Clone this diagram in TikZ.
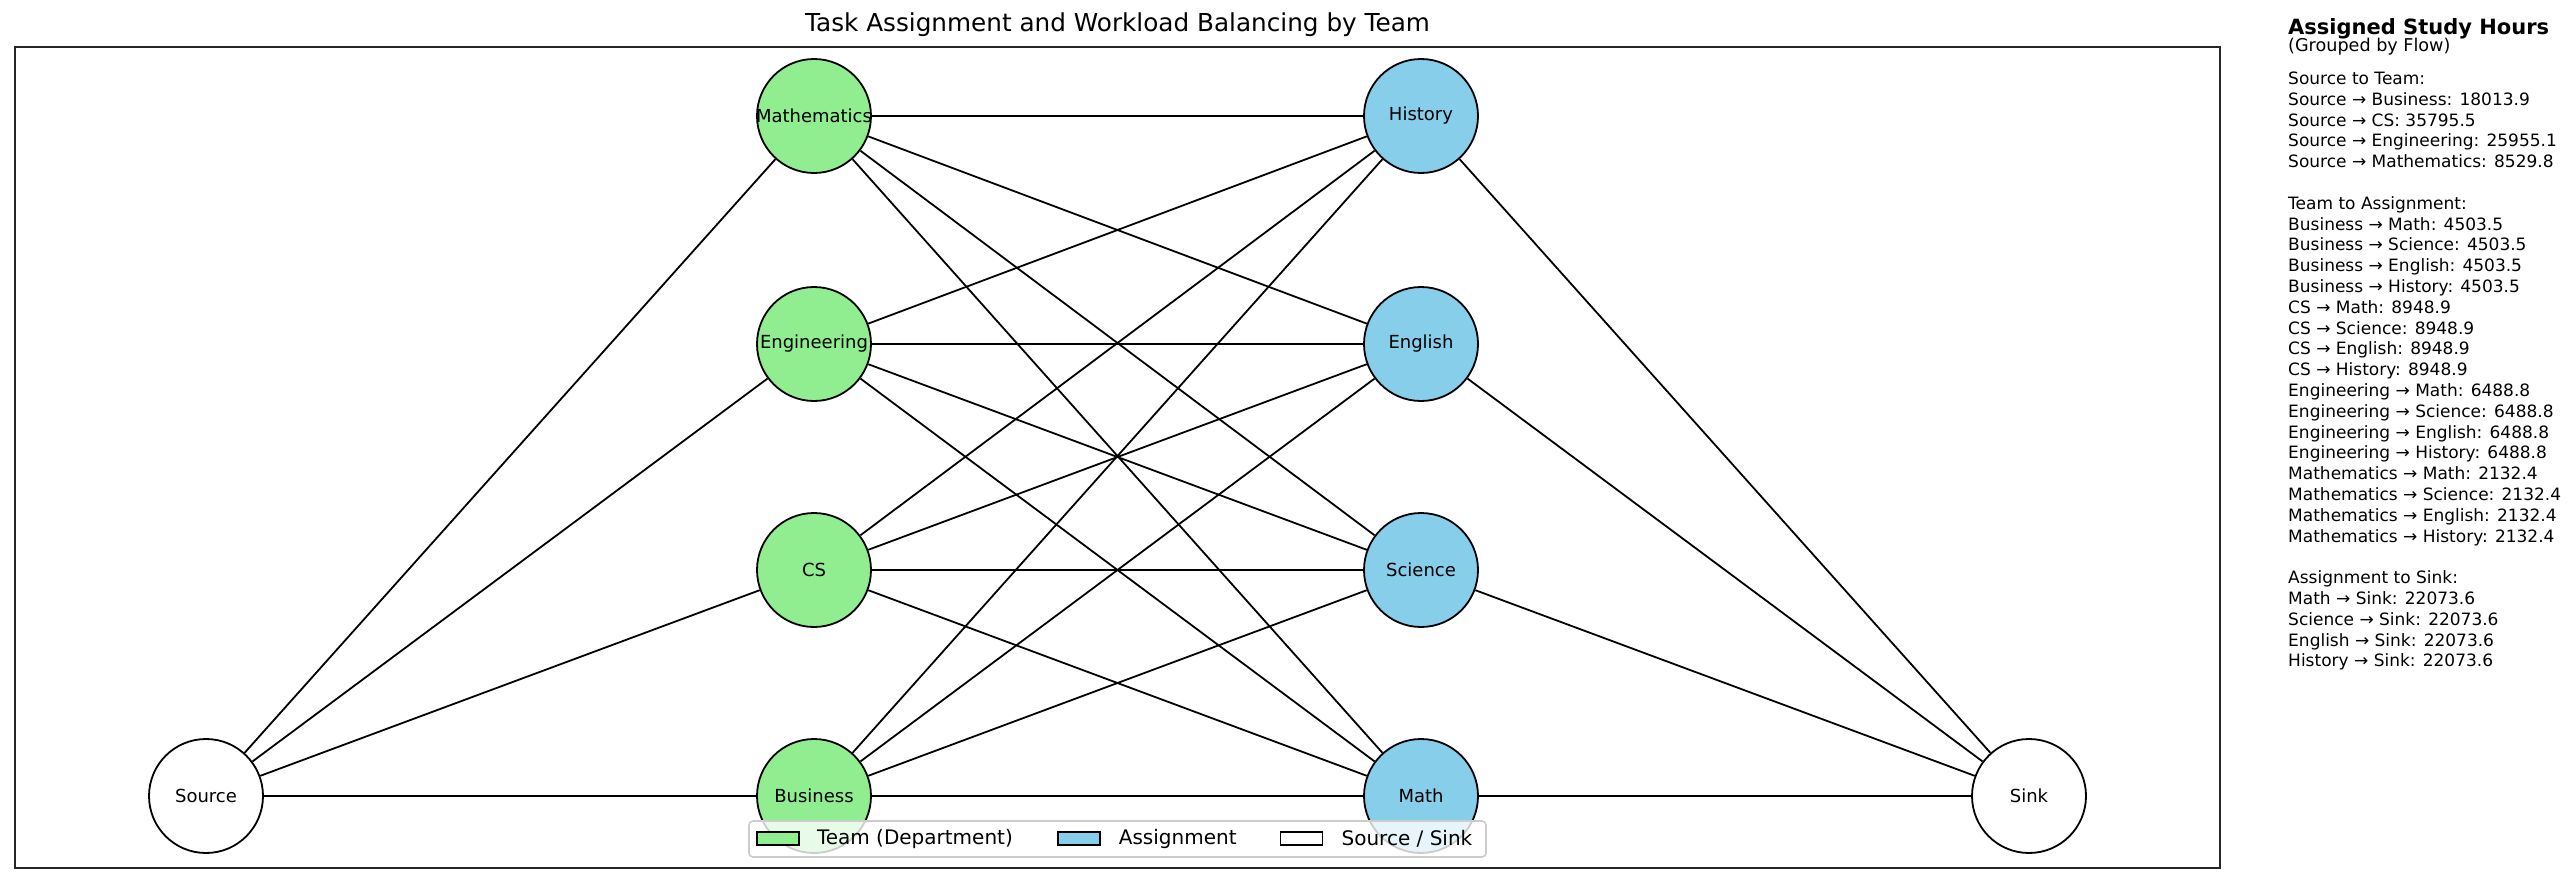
\documentclass[tikz,border=0pt]{standalone}
\usepackage{fontspec}
\setmainfont{DejaVu Sans}
\usetikzlibrary{positioning}
\definecolor{teamgreen}{HTML}{90EE90}
\definecolor{assignblue}{HTML}{87CEEB}
\definecolor{spinegray}{HTML}{262626}

\begin{document}
\begin{tikzpicture}[x=1pt, y=-1pt,
  team/.style={circle, draw=black, line width=1.8pt, fill=teamgreen, minimum size=114pt, inner sep=0pt, font=\fontsize{18}{21}\selectfont},
  task/.style={team, fill=assignblue},
  terminal/.style={team, fill=white},
  flow/.style={draw=black, line width=1.8pt},
  patch/.style={rectangle, draw=black, line width=1.6pt, minimum width=42pt, minimum height=13pt, inner sep=0pt},
  legendtext/.style={inner sep=0pt, font=\fontsize{20}{24}\selectfont},
  hourline/.style={anchor=west, inner sep=0pt, text height=12.3pt, text depth=3.5pt, font=\fontsize{17}{20}\selectfont}
]
  \useasboundingbox (0,0) rectangle (2567,883);

  % Frame and title
  \draw[spinegray, line width=1.8pt] (15,47) rectangle (2220,868);
  \node[font=\fontsize{24.7}{29}\selectfont] (title) at (1117.5,25) {Task Assignment and Workload Balancing by Team};

  % Source and sink
  \node[terminal] (source) at (206,796) {Source};
  \node[terminal] (sink) at (2029,796) {Sink};

  % Teams
  \node[team] (tmath) at (814,116) {\makebox[0pt]{Mathematics}};
  \node[team] (teng) at (814,344) {Engineering};
  \node[team] (tcs) at (814,570) {CS};
  \node[team] (tbus) at (814,796) {Business};

  % Assignments
  \node[task] (ahist) at (1421,116) {History};
  \node[task] (aengl) at (1421,344) {English};
  \node[task] (asci) at (1421,570) {Science};
  \node[task] (amath) at (1421,796) {Math};

  % Flows
  \foreach \t in {tbus, tcs, teng, tmath}
    \draw[flow] (source) -- (\t);
  \foreach \t in {tbus, tcs, teng, tmath}
    \foreach \a in {amath, asci, aengl, ahist}
      \draw[flow] (\t) -- (\a);
  \foreach \a in {amath, asci, aengl, ahist}
    \draw[flow] (\a) -- (sink);

  % Legend
  \node[draw=black!20, line width=1.6pt, rounded corners=4pt, fill=white, fill opacity=0.8, minimum width=737pt, minimum height=36pt] (legend) at (1117.5,839) {};
  \node[patch, fill=teamgreen] (keyteam) at (778,838.5) {};
  \node[legendtext, right=17pt of keyteam] (keyteamtext) {Team (Department)};
  \node[patch, fill=assignblue, right=44pt of keyteamtext] (keytask) {};
  \node[legendtext, right=18pt of keytask] (keytasktext) {Assignment};
  \node[patch, fill=white, right=43pt of keytasktext] (keyend) {};
  \node[legendtext, right=18pt of keyend] (keyendtext) {Source / Sink};

  % Study hours panel
  \node[anchor=west, inner sep=0pt, font=\bfseries\fontsize{21}{25}\selectfont] (hourstitle) at (2288,29) {Assigned Study Hours};
  \node[anchor=west, inner sep=0pt, font=\fontsize{17.6}{21}\selectfont] (hoursnote) at (2288,47) {(Grouped by Flow)};
  \foreach \txt [count=\i from 0] in {Source to Team:, Source → Business: 18013.9, Source → CS: 35795.5, Source → Engineering: 25955.1, Source → Mathematics: 8529.8, ~,
    Team to Assignment:, Business → Math: 4503.5, Business → Science: 4503.5, Business → English: 4503.5, Business → History: 4503.5,
    CS → Math: 8948.9, CS → Science: 8948.9, CS → English: 8948.9, CS → History: 8948.9,
    Engineering → Math: 6488.8, Engineering → Science: 6488.8, Engineering → English: 6488.8, Engineering → History: 6488.8,
    Mathematics → Math: 2132.4, Mathematics → Science: 2132.4, Mathematics → English: 2132.4, Mathematics → History: 2132.4, ~,
    Assignment to Sink:, Math → Sink: 22073.6, Science → Sink: 22073.6, English → Sink: 22073.6, History → Sink: 22073.6}
    \node[hourline] (hours\i) at (2288,80+20.8*\i) {\txt};
\end{tikzpicture}
\end{document}
